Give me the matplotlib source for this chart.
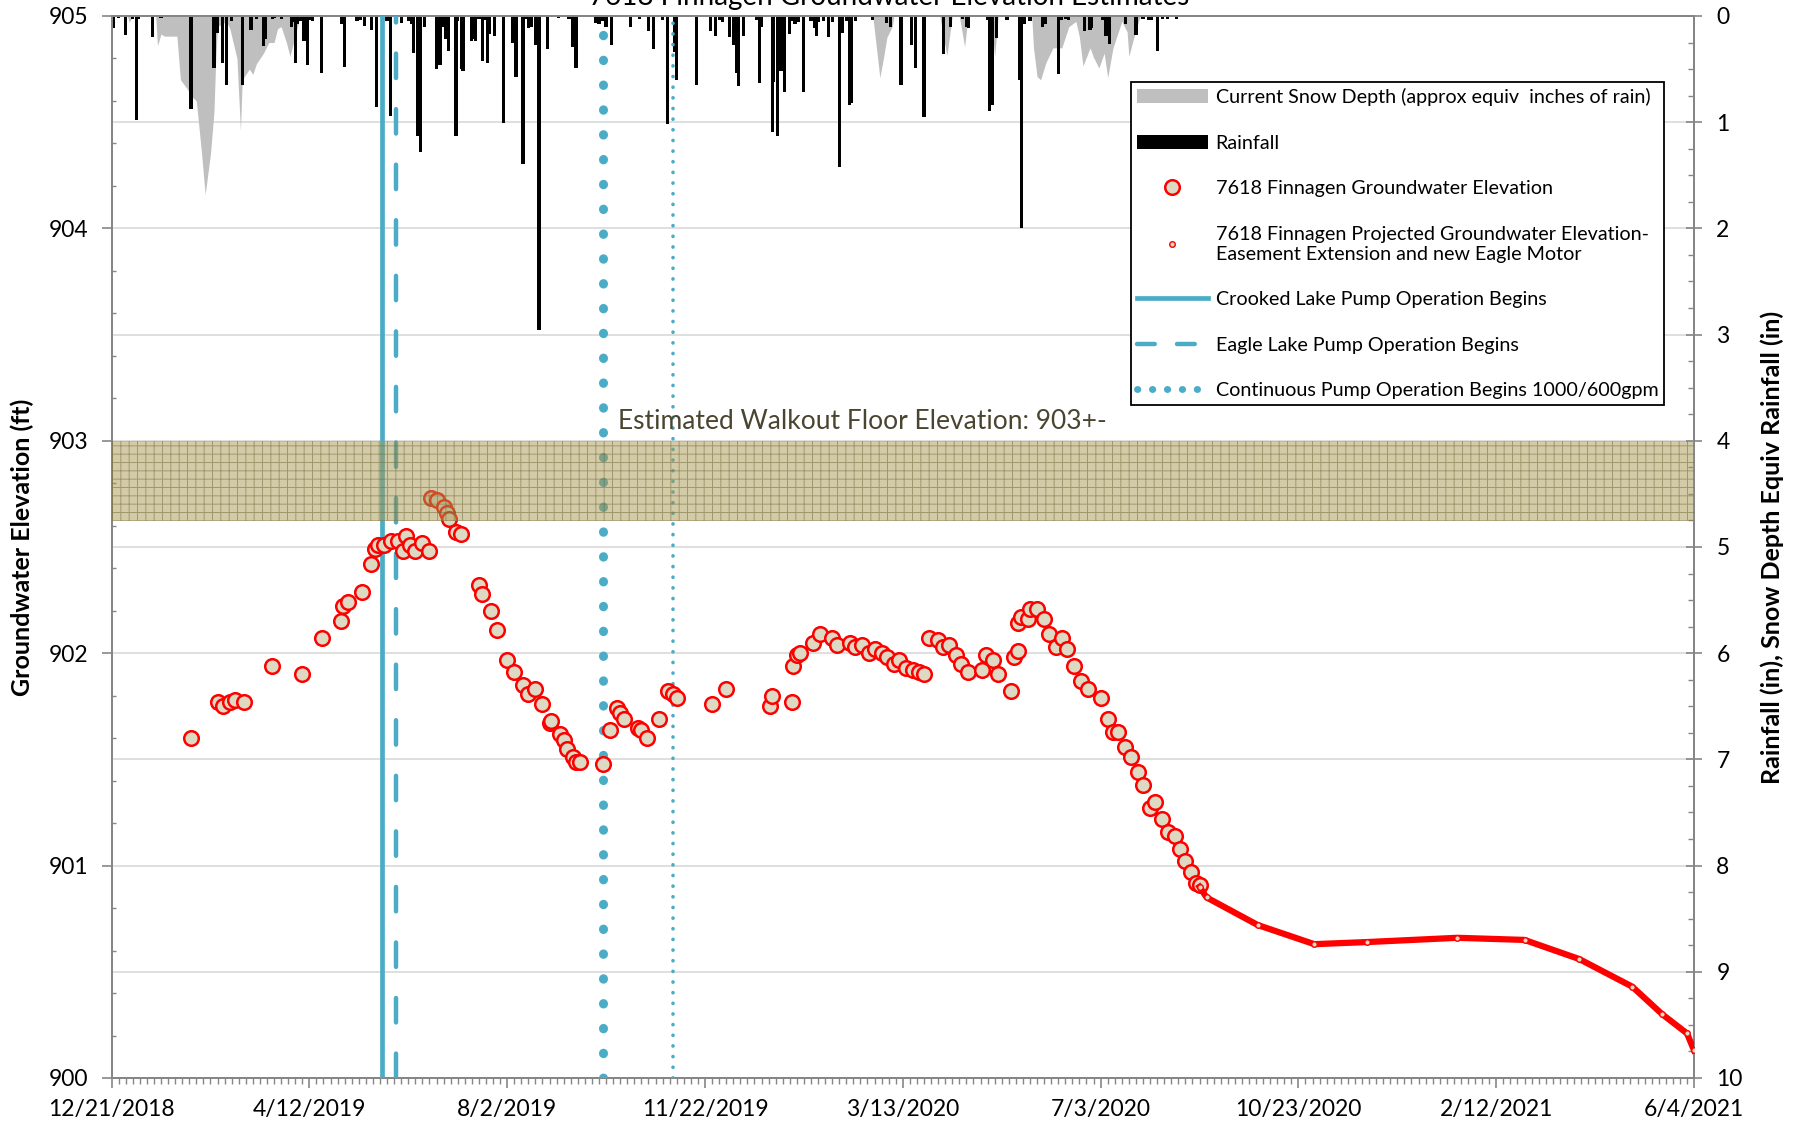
"""
7618 Finnagen groundwater elevation chart with rainfall / snow depth on a
second (inverted) axis.  Writes out.png.
"""

import matplotlib
matplotlib.use("Agg")
import matplotlib.pyplot as plt
import matplotlib.dates as mdates
from matplotlib.lines import Line2D
from matplotlib.patches import Patch
from matplotlib.ticker import FixedLocator, MultipleLocator, FuncFormatter
import numpy as np

plt.rcParams["font.family"] = ["Lato", "DejaVu Sans"]
plt.rcParams["hatch.linewidth"] = 0.7

# ── data (days counted from 12/21/2018) ──────────────────────────────────────
START = "2018-12-21"
X_END_DAY = 896          # 6/4/2021
TICK_STEP_DAYS = 112

obs_days = [45, 60, 63, 67, 70, 75, 91, 108, 119, 130,
            131, 134, 142, 147, 149, 151, 154, 158, 162, 165,
            167, 169, 172, 176, 180, 181, 184, 188, 190, 191,
            195, 198, 208, 210, 215, 218, 224, 228, 233, 236,
            240, 244, 248, 249, 254, 256, 258, 261, 263, 265,
            278, 282, 286, 288, 290, 298, 300, 303, 310, 315,
            318, 320, 340, 348, 373, 374, 385, 386, 388, 390,
            397, 401, 408, 411, 418, 421, 425, 429, 432, 436,
            439, 443, 446, 450, 454, 457, 460, 463, 468, 471,
            474, 478, 481, 485, 493, 495, 499, 502, 509, 511,
            513, 513, 515, 519, 520, 524, 528, 531, 535, 538,
            541, 545, 549, 553, 560, 564, 567, 570, 574, 577,
            581, 584, 588, 591, 595, 598, 602, 605, 608, 611,
            614, 616]
obs_elev = [901.60, 901.77, 901.75, 901.77, 901.78, 901.77, 901.94, 901.90, 902.07, 902.15,
            902.22, 902.24, 902.29, 902.42, 902.49, 902.51, 902.51, 902.53, 902.53, 902.48,
            902.55, 902.51, 902.48, 902.52, 902.48, 902.73, 902.72, 902.69, 902.66, 902.63,
            902.57, 902.56, 902.32, 902.28, 902.20, 902.11, 901.97, 901.91, 901.85, 901.81,
            901.83, 901.76, 901.67, 901.68, 901.62, 901.59, 901.55, 901.51, 901.49, 901.49,
            901.48, 901.64, 901.74, 901.72, 901.69, 901.65, 901.64, 901.60, 901.69, 901.82,
            901.81, 901.79, 901.76, 901.83, 901.75, 901.80, 901.77, 901.94, 901.99, 902.00,
            902.05, 902.09, 902.07, 902.04, 902.05, 902.03, 902.04, 902.00, 902.02, 902.00,
            901.98, 901.95, 901.97, 901.93, 901.92, 901.91, 901.90, 902.07, 902.06, 902.03,
            902.04, 901.99, 901.95, 901.91, 901.92, 901.99, 901.97, 901.90, 901.82, 901.98,
            902.01, 902.14, 902.17, 902.16, 902.21, 902.21, 902.16, 902.09, 902.03, 902.07,
            902.02, 901.94, 901.87, 901.83, 901.79, 901.69, 901.63, 901.63, 901.56, 901.51,
            901.44, 901.38, 901.27, 901.30, 901.22, 901.16, 901.14, 901.08, 901.02, 900.97,
            900.92, 900.91]

proj_days = [616, 620, 649, 681, 711, 762, 800, 831, 861, 878, 892, 896]
proj_elev = [900.90, 900.85, 900.72, 900.63, 900.64, 900.66, 900.65, 900.56, 900.43, 900.30, 900.21, 900.13]

rain_days = [1, 8, 14, 15, 23, 45, 58, 60, 63, 65,
             68, 74, 79, 82, 86, 87, 91, 92, 102, 104,
             105, 109, 111, 114, 119, 130, 132, 139, 143, 147,
             150, 158, 164, 170, 171, 173, 174, 175, 177, 184,
             186, 188, 189, 191, 195, 198, 199, 204, 205, 206,
             210, 213, 214, 217, 222, 227, 229, 233, 236, 240,
             242, 247, 253, 261, 263, 276, 280, 283, 294, 299,
             304, 307, 312, 315, 319, 320, 331, 339, 342, 346,
             350, 352, 354, 355, 358, 367, 368, 374, 375, 377,
             379, 381, 384, 387, 392, 398, 399, 406, 412, 414,
             418, 419, 431, 441, 447, 453, 455, 460, 471, 475,
             484, 485, 497, 499, 501, 507, 514, 515, 517, 520,
             527, 529, 536, 540, 551, 554, 555, 563, 565, 574,
             580, 587, 592, 598, 603,
             # small daily totals
             4, 12, 28, 96, 103, 107, 112, 141, 156, 168,
             187, 196, 208, 211, 235, 238, 259, 274, 278, 344,
             365, 385, 389, 396, 400, 403, 408, 416, 421, 439,
             482, 496, 528, 538, 542, 561, 584, 589, 595]
rain_in = [0.11, 0.18, 0.98, 0.03, 0.20, 0.88, 0.49, 0.16, 0.44, 0.65,
           0.05, 0.65, 0.13, 0.03, 0.28, 0.22, 0.03, 0.02, 0.10, 0.44,
           0.08, 0.24, 0.46, 0.05, 0.54, 0.08, 0.48, 0.05, 0.09, 0.13,
           0.86, 0.94, 0.07, 0.08, 0.35, 1.13, 0.87, 1.28, 0.10, 0.50,
           0.46, 0.10, 0.22, 0.33, 1.13, 0.50, 0.52, 0.24, 0.22, 0.24,
           0.42, 0.44, 0.17, 0.19, 1.01, 0.25, 0.57, 1.39, 0.11, 0.27,
           2.96, 0.31, 0.02, 0.29, 0.49, 0.08, 0.10, 0.27, 0.10, 0.03,
           0.14, 0.31, 0.04, 1.02, 0.34, 0.60, 0.65, 0.14, 0.19, 0.06,
           0.20, 0.27, 0.54, 0.66, 0.19, 0.63, 0.10, 1.09, 0.62, 1.13,
           0.52, 0.72, 0.17, 0.08, 0.72, 0.11, 0.19, 0.20, 1.42, 0.16,
           0.84, 0.82, 0.04, 0.10, 0.65, 0.27, 0.49, 0.95, 0.36, 0.10,
           0.10, 0.11, 0.89, 0.84, 0.21, 0.04, 0.60, 2.00, 0.08, 0.05,
           0.10, 0.08, 0.55, 0.03, 0.14, 0.13, 0.11, 0.19, 0.26, 0.08,
           0.18, 0.04, 0.33, 0.03, 0.03,
           0.02, 0.03, 0.02, 0.03, 0.06, 0.05, 0.04, 0.04, 0.05, 0.05,
           0.04, 0.05, 0.03, 0.04, 0.03, 0.10, 0.03, 0.07, 0.05, 0.04,
           0.04, 0.05, 0.06, 0.05, 0.06, 0.05, 0.06, 0.05, 0.05, 0.07,
           0.03, 0.04, 0.07, 0.04, 0.04, 0.04, 0.03, 0.04, 0.03]

snow_days = [9, 10, 12, 25, 26, 28, 30, 37, 39, 43,
             45, 48, 51, 53, 56, 58, 59, 60, 65, 67,
             71, 73, 74, 76, 78, 80, 82, 86, 89, 92,
             94, 96, 99, 101, 103, 106, 108,
             431, 435, 437, 439, 442, 443,
             469, 471, 473, 476,
             480, 483, 485,
             498, 500, 502,
             521, 522, 524, 526, 529, 533, 538, 542, 546, 548,
             550, 554, 556, 559, 562, 564, 567, 570, 572, 575,
             576, 578, 582, 583]
snow_in = [0, 0.06, 0, 0, 0.28, 0.17, 0.19, 0.19, 0.60, 0.69,
           0.75, 0.80, 1.30, 1.68, 1.30, 0.90, 0.40, 0.10, 0.05, 0.12,
           0.40, 1.08, 0.60, 0.55, 0.50, 0.55, 0.45, 0.35, 0.25, 0.25,
           0.12, 0.10, 0.25, 0.38, 0.25, 0.05, 0,
           0, 0.58, 0.40, 0.20, 0.10, 0,
           0, 0.20, 0.37, 0,
           0, 0.29, 0,
           0, 0.38, 0,
           0, 0.30, 0.57, 0.60, 0.44, 0.30, 0.30, 0.10, 0.05, 0.20,
           0.47, 0.30, 0.39, 0.49, 0.35, 0.58, 0.30, 0.15, 0.05, 0.15,
           0.38, 0.25, 0.02, 0]

crooked_day = 153      # Crooked Lake pump start
eagle_day = 161        # Eagle Lake pump start
continuous_day = 278   # continuous pumping
second_pump_day = 318  # unlabelled dotted marker

floor_lo, floor_hi = 902.62, 903.0

# ── styling ──────────────────────────────────────────────────────────────────
BLUE = "#4bacc6"
RED = "#ff0000"
FACE = "#ddd9c3"
GRAY_AX = "#868686"
SNOW = "#bfbfbf"

t0 = mdates.date2num(np.datetime64(START))
d = lambda days: t0 + np.asarray(days, dtype=float)

fig = plt.figure(figsize=(18.02, 11.34), dpi=100)
ax = fig.add_axes([0.0619, 0.0494, 0.8782, 0.9365])
ax2 = ax.twinx()
ax.set_zorder(2)
ax2.set_zorder(1)
ax.patch.set_visible(False)

# rainfall + snow on the right (inverted) axis
ax2.fill_between(d(snow_days), 0, snow_in, color=SNOW, lw=0, zorder=1)
ax2.bar(d(rain_days), rain_in, width=1.8, color="black", zorder=2)
ax2.set_ylim(10, 0)
ax2.yaxis.set_major_locator(MultipleLocator(1))
ax2.yaxis.set_minor_locator(MultipleLocator(0.25))
ax2.set_axisbelow(True)
ax2.yaxis.grid(True, which="major", color="#d9d9d9", lw=1.2)

# pump operation markers
ax.axvline(d(crooked_day), color=BLUE, lw=3.4, zorder=3)
ax.axvline(d(eagle_day), color=BLUE, lw=3.2, dashes=(5.5, 7.0), dash_capstyle="round", zorder=3)
ax.axvline(d(continuous_day), color=BLUE, lw=6.5, dashes=(0.05, 2.7), dash_capstyle="round", zorder=3)
ax.axvline(d(second_pump_day), color=BLUE, lw=2.6, dashes=(0.05, 2.9), dash_capstyle="round", zorder=3)

# groundwater
ax.plot(d(obs_days), obs_elev, ls="none", marker="o", ms=10.5, mfc=FACE, mec=RED, mew=1.8, zorder=4)
ax.plot(d(proj_days), proj_elev, color=RED, lw=4.5, zorder=4)
ax.plot(d(proj_days), proj_elev, ls="none", marker="o", ms=4, mfc=FACE, mec=RED, mew=1, zorder=4)

# walkout floor band
ax.axhspan(floor_lo, floor_hi, facecolor="#a99951", edgecolor="#6e6632", alpha=0.5,
           hatch="++", lw=0, zorder=5)
ax.text(d(287), floor_hi + 0.03, "Estimated Walkout Floor Elevation: 903+-",
        fontsize=19, color="#4a4530", ha="left", va="bottom", zorder=6)

# axes
ax.set_xlim(d(0), d(X_END_DAY))
ax.set_ylim(900, 905)
ax.xaxis.set_major_locator(FixedLocator(d(np.arange(0, X_END_DAY + 1, TICK_STEP_DAYS))))
ax.xaxis.set_minor_locator(FixedLocator(d(np.arange(0, X_END_DAY + 1, 4))))


def _fmt_date(x, pos):
    dt = mdates.num2date(x)
    return f"{dt.month}/{dt.day}/{dt.year}"


ax.xaxis.set_major_formatter(FuncFormatter(_fmt_date))
ax.yaxis.set_major_locator(MultipleLocator(1))
ax.yaxis.set_minor_locator(MultipleLocator(0.2))

for a in (ax, ax2):
    for sp in a.spines.values():
        sp.set_color(GRAY_AX)
        sp.set_linewidth(1.4)

ax.tick_params(axis="x", which="major", direction="out", length=7, width=1.2,
               color=GRAY_AX, labelsize=16.5, pad=8)
ax.tick_params(axis="x", which="minor", direction="out", length=4, width=1,
               color=GRAY_AX)
ax.tick_params(axis="y", which="major", direction="out", length=7, width=1.2,
               color=GRAY_AX, labelsize=16.5, pad=10)
ax.tick_params(axis="y", which="minor", direction="in", length=3, width=1, color=GRAY_AX)
ax2.tick_params(axis="y", which="major", direction="inout", length=12, width=1.2,
                color=GRAY_AX, labelsize=16.5, pad=10)
ax2.tick_params(axis="y", which="minor", direction="in", length=4, width=1, color=GRAY_AX)

ax.set_ylabel("Groundwater Elevation (ft)", fontsize=18, fontweight="bold")
ax.yaxis.set_label_coords(-0.049, 0.5)
ax2.set_ylabel("Rainfall (in), Snow Depth Equiv Rainfall (in)", fontsize=18,
               fontweight="bold", rotation=90)
ax2.yaxis.set_label_coords(1.0417, 0.5)

fig.text(0.4936, 0.9956, "7618 Finnagen Groundwater Elevation Estimates",
         ha="center", va="baseline", fontsize=20)

# legend
handles = [
    Patch(facecolor=SNOW, edgecolor="none"),
    Patch(facecolor="black", edgecolor="none"),
    Line2D([], [], ls="none", marker="o", ms=10.5, mfc=FACE, mec=RED, mew=1.8),
    Line2D([], [], ls="none", marker="o", ms=4, mfc=FACE, mec=RED, mew=1),
    Line2D([], [], color=BLUE, lw=3.4),
    Line2D([], [], color=BLUE, lw=3.2, dashes=(4.0, 5.0), dash_capstyle="round"),
    Line2D([], [], color=BLUE, lw=5, dashes=(0.05, 2.1), dash_capstyle="round"),
]
labels = [
    "Current Snow Depth (approx equiv  inches of rain)",
    "Rainfall",
    "7618 Finnagen Groundwater Elevation",
    "7618 Finnagen Projected Groundwater Elevation-\nEasement Extension and new Eagle Motor",
    "Crooked Lake Pump Operation Begins",
    "Eagle Lake Pump Operation Begins",
    "Continuous Pump Operation Begins 1000/600gpm",
]
leg = ax.legend(handles, labels, loc="upper left", bbox_to_anchor=(0.6276, 0.9277),
                bbox_transform=fig.transFigure, fontsize=14.2, frameon=True,
                fancybox=False, edgecolor="black", framealpha=1,
                handlelength=3.6, handletextpad=0.4, labelspacing=1.45,
                borderpad=0.3, borderaxespad=0)
leg.get_frame().set_linewidth(1.3)
leg.set_zorder(10)

fig.savefig("out.png", dpi=100)
